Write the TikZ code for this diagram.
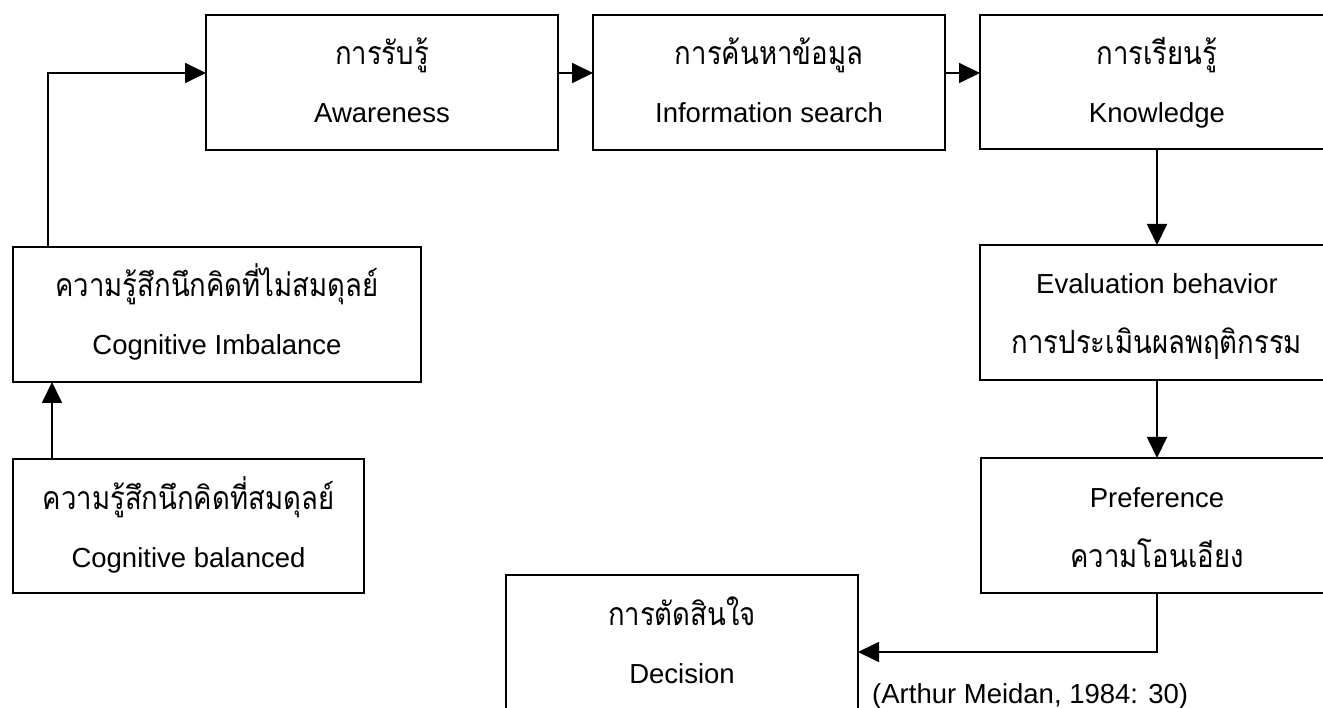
\documentclass[tikz,border=0pt]{standalone}
\usepackage{fontspec}
\setmainfont{Liberation Sans}
\newfontfamily\thaifont[Script=Thai,FakeStretch=0.86]{Loma}
\usetikzlibrary{arrows.meta}
\begin{document}
\begin{tikzpicture}[x=1pt,y=-1pt,
  box/.style={draw, line width=1.8pt, inner sep=0pt, outer sep=0pt, minimum height=135pt},
  th/.style={anchor=base, inner sep=0pt, font=\thaifont\fontsize{32}{36}\selectfont},
  en/.style={anchor=base, inner sep=0pt, font=\fontsize{27.5}{32}\selectfont},
  flow/.style={line width=1.8pt, -{Triangle[length=21pt,width=20pt]}}]
\useasboundingbox (0,0) rectangle (1323,708);
\clip (0,0) rectangle (1323,708);

% boxes
\node[box, minimum width=352pt] (aware) at (382,82.5) {};
\node[box, minimum width=352pt] (info)  at (769,82.5) {};
\node[box, minimum width=354pt, minimum height=134pt] (know) at (1157,82) {};
\node[box, minimum width=354pt] (eval)  at (1157,312.5) {};
\node[box, minimum width=352pt] (pref)  at (1157,525.5) {};
\node[box, minimum width=408pt] (imb)   at (217,314.5) {};
\node[box, minimum width=351pt, minimum height=134pt] (bal) at (188.5,526) {};
\node[box, minimum width=352pt] (dec)   at (682,642.5) {};

% labels: first line about 49pt, second line 108pt below each box top
\node[th] (aware-a) at ([yshift=-50pt]aware.north) {การรับรู้};
\node[en] (aware-b) at ([yshift=-108pt]aware.north) {Awareness};
\node[th] (info-a) at ([yshift=-50pt]info.north) {การค้นหาข้อมูล};
\node[en] (info-b) at ([yshift=-108pt]info.north) {Information search};
\node[th] (know-a) at ([yshift=-50pt]know.north) {การเรียนรู้};
\node[en] (know-b) at ([yshift=-108pt]know.north) {Knowledge};
\node[en] (eval-a) at ([yshift=-49pt]eval.north) {Evaluation behavior};
\node[th] (eval-b) at ([yshift=-109pt]eval.north) {การประเมินผลพฤติกรรม};
\node[en] (pref-a) at ([yshift=-49pt]pref.north) {Preference};
\node[th] (pref-b) at ([yshift=-109pt]pref.north) {ความโอนเอียง};
\node[th] (imb-a) at ([yshift=-50pt]imb.north) {ความรู้สึกนึกคิดที่ไม่สมดุลย์};
\node[en] (imb-b) at ([yshift=-108pt]imb.north) {Cognitive Imbalance};
\node[th] (bal-a) at ([yshift=-50pt]bal.north) {ความรู้สึกนึกคิดที่สมดุลย์};
\node[en] (bal-b) at ([yshift=-108pt]bal.north) {Cognitive balanced};
\node[th] (dec-a) at ([yshift=-50pt]dec.north) {การตัดสินใจ};
\node[en] (dec-b) at ([yshift=-108pt]dec.north) {Decision};

\node[en, anchor=base west] (cite) at (872,703) {(Arthur Meidan, 1984: 30)};

% connectors
\draw[flow] ([xshift=39pt]bal.north west) -- ([xshift=39pt]bal.north west |- imb.south);
\draw[flow] ([xshift=35pt]imb.north west) |- ([yshift=9.5pt]aware.west);
\draw[flow] ([yshift=9.5pt]aware.east) -- ([yshift=9.5pt]info.west);
\draw[flow] ([yshift=9.5pt]info.east) -- ([yshift=9.5pt]info.east -| know.west);
\draw[flow] (know.south) -- (eval.north);
\draw[flow] (eval.south) -- (pref.north);
\draw[flow] (pref.south) |- ([yshift=-9.5pt]dec.east);
\end{tikzpicture}
\end{document}
